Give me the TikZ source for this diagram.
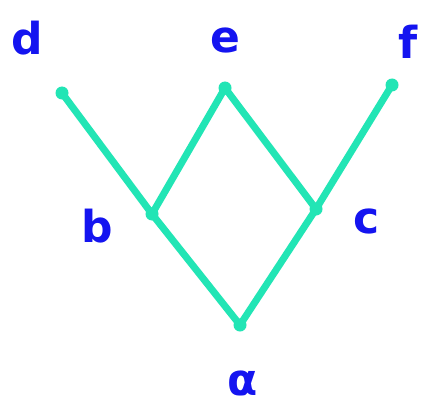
\documentclass[tikz,border=0pt]{standalone}
\usepackage{fontspec}
\setmainfont{DejaVu Sans}
\begin{document}
\begin{tikzpicture}[x=1pt,y=-1pt,
  edge/.style={draw=teal1,line width=7pt,line cap=round,line join=round},
  vdot/.style={circle,fill=teal1,inner sep=0pt,minimum size=13pt},
  lbl/.style={text=blue1,font=\fontsize{44}{44}\selectfont\bfseries,inner sep=0pt}]
\definecolor{teal1}{HTML}{22E5B5}
\definecolor{blue1}{HTML}{1414F0}
\useasboundingbox[fill=white] (0,0) rectangle (430,406);
\node[vdot] (d) at (62,93) {};
\node[vdot] (e) at (225,88) {};
\node[vdot] (f) at (392,85) {};
\node[vdot] (b) at (152,214) {};
\node[vdot] (c) at (316,209) {};
\node[vdot] (a) at (240,325) {};
\draw[edge] (d.center) -- (b.center) -- (e.center) -- (c.center) -- (f.center);
\draw[edge] (b.center) -- (a.center) -- (c.center);
\node[lbl] (ld) at (27,38) {d};
\node[lbl] (le) at (225,40) {e};
\node[lbl] (lf) at (408,42) {f};
\node[lbl] (lb) at (97,226) {b};
\node[lbl] (lc) at (367,221) {c};
\node[lbl] (la) at (243,383) {α};
\end{tikzpicture}
\end{document}
